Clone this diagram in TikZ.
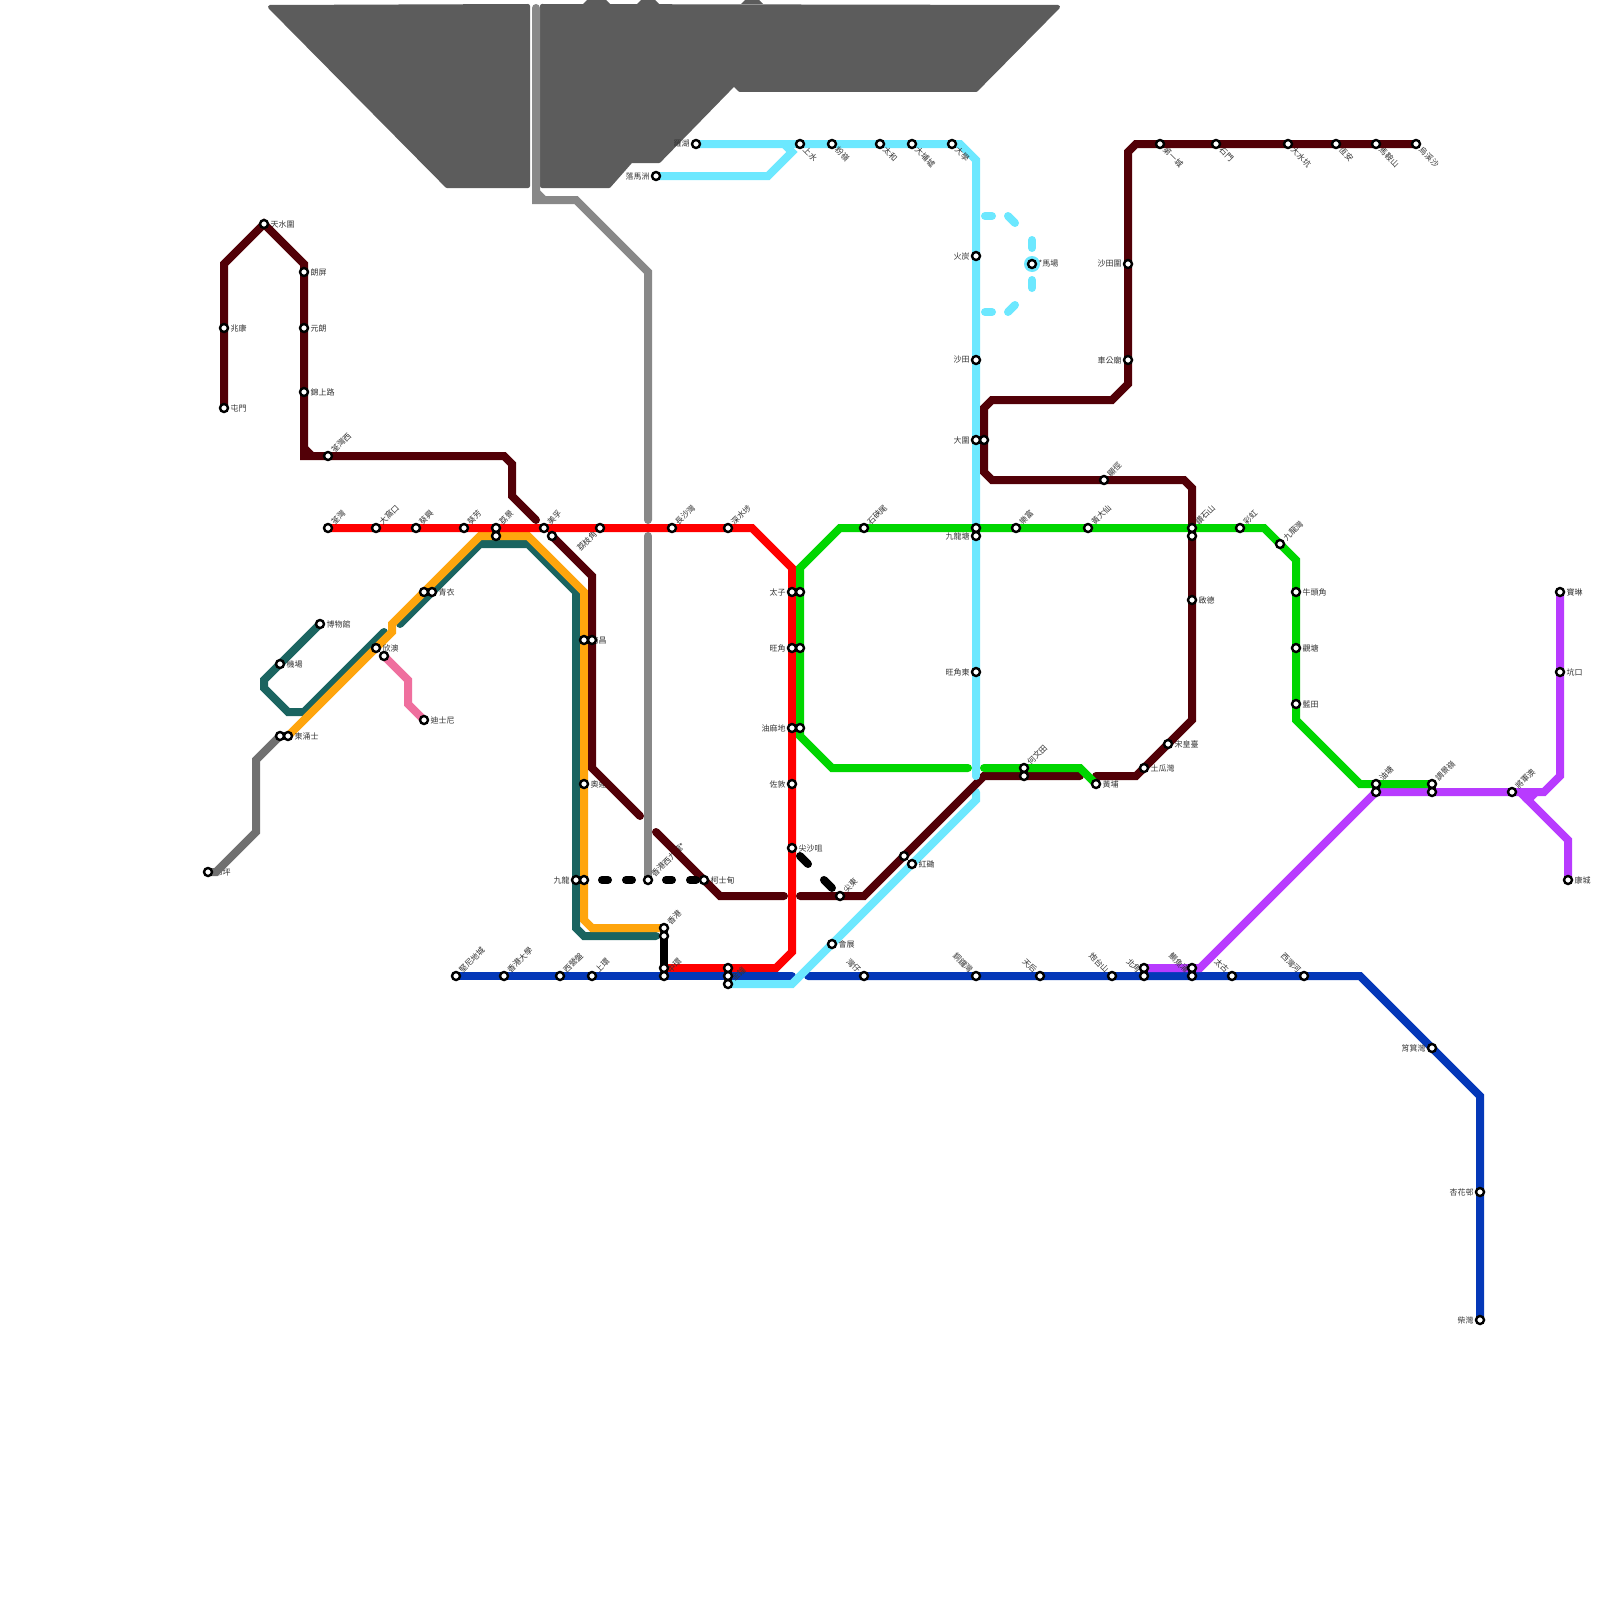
\documentclass[tikz,border=0pt]{standalone}
\usepackage{fontspec}
\setmainfont{Noto Sans CJK TC}
\definecolor{cRed}{HTML}{FF0000}
\definecolor{cBrown}{HTML}{520007}
\definecolor{cOrange}{HTML}{FFA50D}
\definecolor{cTeal}{HTML}{1A6460}
\definecolor{cGreen}{HTML}{00D600}
\definecolor{cCyan}{HTML}{6CE8FF}
\definecolor{cBlue}{HTML}{0438B8}
\definecolor{cPurple}{HTML}{B83BFF}
\definecolor{cGrey}{HTML}{888888}
\definecolor{cNp}{HTML}{707070}
\definecolor{cPink}{HTML}{EF6F9E}
\definecolor{cDark}{HTML}{5C5C5C}
\definecolor{cText}{HTML}{333333}
\tikzset{
  rail/.style={line width=8pt,line cap=round,line join=miter},
  stn/.style={circle,draw=black,fill=white,line width=2.4pt,minimum size=8pt,inner sep=0pt},
  halo/.style={circle,fill=cCyan,minimum size=16pt,inner sep=0pt},
  lbl/.style={font=\fontsize{8pt}{8pt}\selectfont,text=cText,inner xsep=6.5pt,inner ysep=0pt,outer sep=0pt}
}
\newcommand\lblR[2]{\node[lbl,anchor=west] (l-#1) at (#1) {#2};}
\newcommand\lblL[2]{\node[lbl,anchor=east] (l-#1) at (#1) {#2};}
\newcommand\lblU[2]{\node[lbl,rotate=45,anchor=west] (l-#1) at (#1) {#2};}
\newcommand\lblD[2]{\node[lbl,rotate=-45,anchor=west] (l-#1) at (#1) {#2};}
\newcommand\lblB[2]{\node[lbl,rotate=-45,anchor=east] (l-#1) at (#1) {#2};}
\newcommand\lblS[2]{\node[lbl,rotate=45,anchor=east] (l-#1) at (#1) {#2};}
\begin{document}
\begin{tikzpicture}[x=1pt,y=-1pt]
\useasboundingbox (0,0) rectangle (1600,1600);
\clip (0,0) rectangle (1600,1600);
\fill[white] (0,0) rectangle (1600,1600);
\foreach \n/\x/\y in {
 tm/224/408,sk/224/328,tsw/264/224,ls/304/272,yl/304/328,ksr/304/392,twW/328/456,
 tw/328/528,twh/376/528,kh/416/528,kf/464/528,lk/496/528,lkb/496/536,mf/544/528,mfb/552/536,lck/600/528,csw/672/528,ssp/728/528,
 pe/792/592,peb/800/592,mk/792/648,mkb/800/648,ymt/792/728,ymtb/800/728,jd/792/784,tst/792/848,
 mus/320/624,apt/280/664,sun/376/648,sunb/384/656,dis/424/720,tc/280/736,tcb/288/736,ty/424/592,tyb/432/592,ngp/208/872,
 ns/584/640,nsb/592/640,oly/584/784,kln/576/880,klnb/584/880,hk/664/928,hkb/664/936,ws/648/880,aus/704/880,etst/840/896,hh/904/856,hhb/912/864,exh/832/944,
 lw/696/144,lmc/656/176,ss/800/144,fl/832/144,tho/880/144,tpm/912/144,uni/952/144,ft/976/256,rc/1032/264,sti/976/360,tai/976/440,taib/984/440,kt/976/528,ktb/976/536,mke/976/672,
 skm/864/528,lf/1016/528,wts/1088/528,dh/1192/528,dhb/1192/536,ch/1240/528,kb/1280/544,ntk/1296/592,kwt/1296/648,lt/1296/704,yt/1376/784,ytb/1376/792,tko/1432/784,tkob/1432/792,
 tkl/1512/792,hah/1560/672,pl/1560/592,lohas/1568/880,
 hmt/1024/768,hmtb/1024/776,whp/1096/784,tkw/1144/768,stk/1168/744,kat/1192/600,hin/1104/480,
 sht/1128/264,cki/1128/360,cit/1160/144,shm/1216/144,tsh/1288/144,hon/1336/144,mos/1376/144,wks/1416/144,
 ken/456/976,hku/504/976,syp/560/976,shw/592/976,cen/664/968,cenb/664/976,adm/728/968,admb/728/976,admc/728/984,wch/864/976,cwb/976/976,tin/1040/976,fth/1112/976,np/1144/968,npb/1144/976,qb/1192/968,qbb/1192/976,tak/1232/976,swh/1304/976,skw/1432/1048,hfc/1480/1192,cw/1480/1320}
 {\coordinate (\n) at (\x,\y);}

% dark block
\filldraw[cDark,line width=4pt,line join=round]
 (270,7) -- (528,6) -- (528,186) -- (447,186) -- cycle;
\filldraw[cDark,line width=4pt,line join=round]
 (542,6) -- (1058,7) -- (976,90) -- (740,90) -- (734,84) -- (659,161) -- (631,161) -- (609,186) -- (542,186) -- cycle;
\fill[cDark] (583,4) -- (588,-1) -- (605,-1) -- (610,4) -- cycle;
\fill[cDark] (637,4) -- (642,-1) -- (654,-1) -- (659,4) -- cycle;
\fill[cDark] (741,4) -- (746,-1) -- (758,-1) -- (763,4) -- cycle;

% lines below labels
\draw[rail,cGrey] (536,8) -- (536,200) -- (576,200) -- (648,272) -- (648,520);
\draw[rail,cGrey,line cap=butt] (536,192) -- (544,200);
\draw[rail,cGrey] (648,536) -- (ws);
\draw[rail,cTeal] (mus) -- (apt) -- (264,680) -- (264,688) -- (288,712) -- (304,712) -- (384,632);
\draw[rail,cTeal] (400,624) -- (480,544) -- (528,544) -- (576,592) -- (576,928) -- (584,936) -- (656,936);
\draw[rail,cOrange] (tcb) -- (392,632) -- (392,624) -- (480,536) -- (528,536) -- (584,592) -- (584,920) -- (592,928) -- (hk);
\draw[rail,cRed] (tw) -- (752,528) -- (792,568) -- (792,952) -- (776,968) -- (cen);
\draw[rail,cBlue] (ken) -- (792,976);
\draw[rail,cBlue] (808,976) -- (1360,976) -- (1480,1096) -- (cw);
\draw[rail,cPurple] (np) -- (1200,968) -- (ytb) -- (1544,792) -- (1560,776) -- (pl);
\draw[rail,cPurple] (lohas) -- (1568,840) -- (1528,800) -- (1536,792);
\draw[rail,cPurple] (1520,792) -- (1528,800);
\draw[rail,cCyan] (lw) -- (960,144) -- (976,160) -- (976,776);
\draw[rail,cCyan] (lmc) -- (768,176) -- (792,152) -- (784,144);
\draw[rail,cCyan] (976,792) -- (976,800) -- (792,984) -- (admc);
\coordinate (rcA) at (985,216); \coordinate (rcB) at (992,216);
\coordinate (rcC) at (1008,216); \coordinate (rcD) at (1015,223);
\coordinate (rcE) at (1032,240); \coordinate (rcF) at (1032,248);
\coordinate (rcG) at (1032,280); \coordinate (rcH) at (1032,288);
\coordinate (rcI) at (1015,305); \coordinate (rcJ) at (1008,312);
\coordinate (rcK) at (992,312); \coordinate (rcL) at (985,312);
\foreach \a/\b in {rcA/rcB,rcC/rcD,rcE/rcF,rcG/rcH,rcI/rcJ,rcK/rcL} \draw[rail,cCyan] (\a) -- (\b);
\node[halo] (rcHalo) at (rc) {};

% labels
\lblR{tsw}{天水圍}\lblR{ls}{朗屏}\lblR{yl}{元朗}\lblR{ksr}{錦上路}\lblR{sk}{兆康}\lblR{tm}{屯門}
\lblU{twW}{荃灣西}\lblU{tw}{荃灣}\lblU{twh}{大窩口}\lblU{kh}{葵興}\lblU{kf}{葵芳}\lblU{lk}{荔景}\lblU{mf}{美孚}\lblS{lck}{荔枝角}\lblU{csw}{長沙灣}\lblU{ssp}{深水埗}
\lblL{pe}{太子}\lblL{mk}{旺角}\lblL{ymt}{油麻地}\lblL{jd}{佐敦}\lblR{tst}{尖沙咀}
\lblR{mus}{博物館}\lblR{apt}{機場}\lblR{sun}{欣澳}\lblR{dis}{迪士尼}\lblR{tcb}{東涌士}\lblR{tyb}{青衣}\lblR{ngp}{昂坪}
\lblR{ns}{南昌}\lblR{oly}{奧運}\lblL{kln}{九龍}\lblU{hk}{香港}\lblU{ws}{香港西九龍*}\lblR{aus}{柯士甸}\lblU{etst}{尖東}\lblR{hhb}{紅磡}\lblR{exh}{會展}
\lblL{lw}{羅湖}\lblL{lmc}{落馬洲}\lblD{ss}{上水}\lblD{fl}{粉嶺}\lblD{tho}{太和}\lblD{tpm}{大埔墟}\lblD{uni}{大學}
\lblL{ft}{火炭}\lblR{rc}{*馬場}\lblL{sti}{沙田}\lblL{tai}{大圍}\lblL{ktb}{九龍塘}\lblL{mke}{旺角東}
\lblU{skm}{石硤尾}\lblU{lf}{樂富}\lblU{wts}{黃大仙}\lblU{dh}{鑽石山}\lblU{ch}{彩虹}\lblU{kb}{九龍灣}\lblR{ntk}{牛頭角}\lblR{kwt}{觀塘}\lblR{lt}{藍田}
\lblU{yt}{油塘}\lblU{tko}{調景嶺}\lblU{tkl}{將軍澳}\lblR{hah}{坑口}\lblR{pl}{寶琳}\lblR{lohas}{康城}
\lblU{hmt}{何文田}\lblR{whp}{黃埔}\lblR{tkw}{土瓜灣}\lblR{stk}{宋皇臺}\lblR{kat}{啟德}\lblU{hin}{顯徑}
\lblL{sht}{沙田圍}\lblL{cki}{車公廟}\lblD{cit}{第一城}\lblD{shm}{石門}\lblD{tsh}{大水坑}\lblD{hon}{恆安}\lblD{mos}{馬鞍山}\lblD{wks}{烏溪沙}
\lblU{ken}{堅尼地城}\lblU{hku}{香港大學}\lblU{syp}{西營盤}\lblU{shw}{上環}\lblU{cenb}{中環}\lblU{admc}{金鐘}
\lblB{wch}{灣仔}\lblB{cwb}{銅鑼灣}\lblB{tin}{天后}\lblB{fth}{炮台山}\lblB{npb}{北角}\lblB{qbb}{鰂魚涌}\lblB{tak}{太古}\lblB{swh}{西灣河}
\lblL{skw}{筲箕灣}\lblL{hfc}{杏花邨}\lblL{cw}{柴灣}

% lines above labels
\draw[rail,cBrown] (tm) -- (224,264) -- (tsw) -- (304,264) -- (304,456) -- (504,456) -- (512,464) -- (512,496) -- (536,520);
\draw[rail,cBrown,line cap=butt] (304,448) -- (312,456);
\draw[rail,cBrown] (mfb) -- (592,576) -- (592,768) -- (640,816);
\draw[rail,cBrown] (656,832) -- (720,896) -- (784,896);
\draw[rail,cBrown] (800,896) -- (864,896) -- (984,776) -- (1080,776);
\draw[rail,cBrown] (1096,776) -- (1136,776) -- (1192,720) -- (1192,488) -- (1184,480) -- (992,480) -- (984,472) -- (984,408) -- (992,400) -- (1112,400) -- (1128,384) -- (1128,152) -- (1136,144) -- (wks);
\draw[rail,cGreen] (968,768) -- (832,768) -- (800,736) -- (800,568) -- (840,528) -- (1264,528) -- (1296,560) -- (1296,720) -- (1360,784) -- (tko);
\draw[rail,cGreen] (984,768) -- (1080,768) -- (whp);
\draw[rail,cNp] (ngp) -- (216,872) -- (256,832) -- (256,760) -- (tc);
\draw[rail,cPink] (sunb) -- (408,680) -- (408,704) -- (dis);
\draw[rail,black,dash pattern=on 6pt off 18pt,dash phase=6pt] (klnb) -- (ws);
\draw[rail,black,dash pattern=on 6pt off 18pt,dash phase=6pt] (ws) -- (aus);
\draw[rail,black,dash pattern=on 11.3pt off 22.6pt,dash phase=22.6pt] (tst) -- (etst);
\draw[rail,black] (hkb) -- (cen);
\draw[rail,cCyan,line cap=round] (976,772) -- (976,776);

% stations
\foreach \n in {tm,sk,tsw,ls,yl,ksr,twW,tw,twh,kh,kf,lk,lkb,mf,mfb,lck,csw,ssp,pe,peb,mk,mkb,ymt,ymtb,jd,tst,
 mus,apt,sun,sunb,dis,tc,tcb,ty,tyb,ngp,ns,nsb,oly,kln,klnb,hk,hkb,ws,aus,etst,hh,hhb,exh,
 lw,lmc,ss,fl,tho,tpm,uni,ft,rc,sti,tai,taib,kt,ktb,mke,skm,lf,wts,dh,dhb,ch,kb,ntk,kwt,lt,yt,ytb,tko,tkob,
 tkl,hah,pl,lohas,hmt,hmtb,whp,tkw,stk,kat,hin,sht,cki,cit,shm,tsh,hon,mos,wks,
 ken,hku,syp,shw,cen,cenb,adm,admb,admc,wch,cwb,tin,fth,np,npb,qb,qbb,tak,swh,skw,hfc,cw}
 {\node[stn] (s-\n) at (\n) {};}
\end{tikzpicture}
\end{document}
